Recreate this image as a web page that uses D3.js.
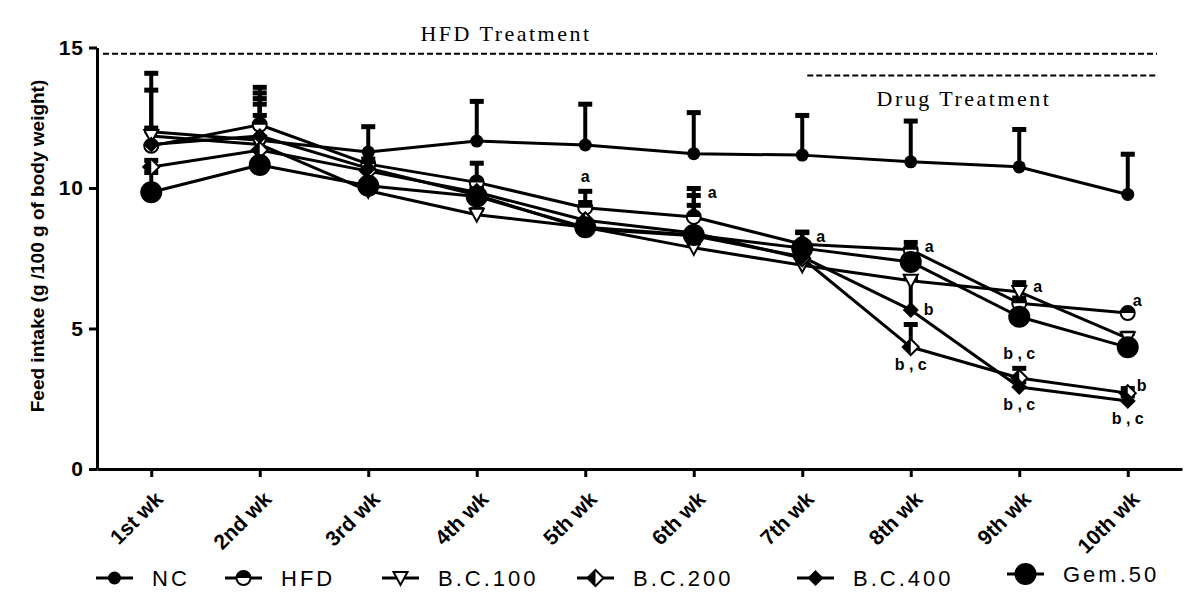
<!DOCTYPE html>
<html><head><meta charset="utf-8">
<script src="https://cdn.jsdelivr.net/npm/d3@7"></script>
<style>
body{margin:0;background:#fff;}
svg{display:block;}
</style></head>
<body>
<svg id="chart" width="1200" height="613"></svg>
<script>
const weeks = ["1st wk","2nd wk","3rd wk","4th wk","5th wk","6th wk","7th wk","8th wk","9th wk","10th wk"];
const yTicks = [0,5,10,15];

const NC     = [12.0, 11.7, 11.28, 11.67, 11.53, 11.22, 11.17, 10.93, 10.75, 9.77];
const HFD    = [11.5, 12.25, 10.85, 10.2, 9.3, 8.97, 8.0, 7.8, 5.9, 5.55];
const BC100  = [11.85, 11.55, 9.9, 9.05, 8.6, 7.87, 7.25, 6.7, 6.3, 4.65];
const BC200  = [10.75, 11.35, 10.6, 9.85, 8.85, 8.4, 7.5, 4.34, 3.24, 2.7];
const BC400  = [11.55, 11.85, 10.7, 9.75, 8.55, 8.3, 7.55, 5.66, 2.92, 2.42];
const GEM50  = [9.85, 10.82, 10.08, 9.7, 8.6, 8.33, 7.86, 7.37, 5.42, 4.33];

const NC_err    = [2.1, 1.9, 0.92, 1.43, 1.47, 1.48, 1.43, 1.47, 1.35, 1.45];
const HFD_err   = [2.0, 1.15, 0.2, 0.7, 0.6, 1.03, 0.45, 0.28, 0.2, 0.05];
const BC100_err = [0.3, 1.65, 0.2, 0.2, 0.2, 0.2, 0.2, 0.1, 0.35, 0.2];
const BC200_err = [0.25, 1.65, 0.2, 0.2, 0.65, 1.35, 0.2, 0.82, 0.36, 0.18];
const BC400_err = [0.5, 0.75, 0.2, 0.2, 0.2, 1.1, 0.2, 1.17, 0.2, 0.2];
const GEM50_err = [0.72, 0.2, 0.2, 0.2, 0.2, 0.2, 0.57, 0.2, 0.2, 0.2];

const seriesNames = ["NC","HFD","B.C.100","B.C.200","B.C.400","Gem.50"];
const seriesVals  = [NC, HFD, BC100, BC200, BC400, GEM50];
const seriesErrs  = [NC_err, HFD_err, BC100_err, BC200_err, BC400_err, GEM50_err];

// significance letters: week, series, label, placement
const sigLabels = [
  ["5th wk","HFD","a","top"],
  ["6th wk","HFD","a","right"],
  ["7th wk","HFD","a","right"],
  ["8th wk","HFD","a","right"],
  ["9th wk","BC100","a","right"],
  ["10th wk","HFD","a","rightUp"],
  ["8th wk","BC400","b","right"],
  ["8th wk","BC200","b , c","below"],
  ["9th wk","BC200","b , c","top"],
  ["9th wk","BC400","b , c","below"],
  ["10th wk","BC200","b","right"],
  ["10th wk","BC400","b , c","below"]
];
const phaseLabels = [
  {text:"HFD Treatment", from:"1st wk", value:14.78, pos:"above"},
  {text:"Drug Treatment", from:"7th wk", value:14.0, pos:"below"}
];

const svg = d3.select("#chart");
const x = d3.scalePoint().domain(weeks).range([97, 1182]).padding(0.5);
const y = d3.scaleLinear().domain([0,15]).range([469, 47.5]);

const keyIdx = {NC:0, HFD:1, BC100:2, BC200:3, BC400:4, GEM50:5};

// axes
const yAxis = d3.axisLeft(y).tickValues(yTicks).tickSize(8).tickSizeOuter(0).tickPadding(5);
const gy = svg.append("g").attr("transform","translate(97,0)").call(yAxis);
gy.select(".domain").attr("stroke","#000").attr("stroke-width",3);
gy.selectAll(".tick line").attr("stroke","#000").attr("stroke-width",3);
gy.selectAll(".tick text").attr("font-family","Liberation Sans, Arial, sans-serif").attr("font-weight","bold").attr("font-size",21).attr("letter-spacing","1").attr("fill","#000");

const xAxis = d3.axisBottom(x).tickSize(8).tickSizeOuter(0).tickFormat("");
const gx = svg.append("g").attr("transform","translate(0,469)").call(xAxis);
gx.select(".domain").attr("stroke","#000").attr("stroke-width",3);
gx.selectAll(".tick line").attr("stroke","#000").attr("stroke-width",3);
gx.selectAll(".tick").append("text")
  .attr("transform","translate(2,21) rotate(-45)")
  .attr("text-anchor","end").attr("dy","0.7em")
  .attr("font-family","Liberation Sans, Arial, sans-serif").attr("font-weight","bold")
  .attr("font-size",21).attr("fill","#000")
  .text(d=>d);

// y title
svg.append("text").attr("transform","translate(44,246) rotate(-90)")
  .attr("text-anchor","middle")
  .attr("font-family","Liberation Sans, Arial, sans-serif").attr("font-weight","bold")
  .attr("font-size",19).text("Feed intake (g /100 g of body weight)");

// phase dashed lines
phaseLabels.forEach(p=>{
  const x0 = p.from === "1st wk" ? 103 : x(p.from)+5;
  svg.append("line").attr("x1",x0).attr("x2",1157).attr("y1",y(p.value)).attr("y2",y(p.value))
    .attr("stroke","#000").attr("stroke-width",2).attr("stroke-dasharray","6,3");
  svg.append("text").attr("x", p.pos==="above" ? 506 : 964)
    .attr("y", p.pos==="above" ? y(p.value)-13 : y(p.value)+30)
    .attr("text-anchor","middle")
    .attr("font-family","Liberation Serif, Times New Roman, serif").attr("font-size",22)
    .attr("letter-spacing","2.5").text(p.text);
});

// markers
function drawMarker(g, i, cx, cy){
  const s = "#000";
  if(i===0){ g.append("circle").attr("cx",cx).attr("cy",cy).attr("r",6.5).attr("fill",s); }
  else if(i===1){
    g.append("circle").attr("cx",cx).attr("cy",cy).attr("r",7).attr("fill","#fff").attr("stroke",s).attr("stroke-width",2);
    g.append("path").attr("d",`M${cx-7},${cy} A7,7 0 0 1 ${cx+7},${cy} Z`).attr("fill",s);
  }
  else if(i===2){
    g.append("path").attr("d",`M${cx-7},${cy-6} L${cx+7},${cy-6} L${cx},${cy+7} Z`).attr("fill","#fff").attr("stroke",s).attr("stroke-width",2);
  }
  else if(i===3){
    g.append("path").attr("d",`M${cx},${cy-8} L${cx+8},${cy} L${cx},${cy+8} L${cx-8},${cy} Z`).attr("fill","#fff").attr("stroke",s).attr("stroke-width",2);
    g.append("path").attr("d",`M${cx},${cy-8} L${cx-8},${cy} L${cx},${cy+8} Z`).attr("fill",s);
  }
  else if(i===4){
    g.append("path").attr("d",`M${cx},${cy-8} L${cx+8},${cy} L${cx},${cy+8} L${cx-8},${cy} Z`).attr("fill",s);
  }
  else {
    g.append("circle").attr("cx",cx).attr("cy",cy).attr("r",11).attr("fill",s);
  }
}

const line = d3.line().x((d,i)=>x(weeks[i])).y(d=>y(d));
const gl = svg.append("g");
seriesVals.forEach(v=>{
  gl.append("path").attr("d",line(v)).attr("fill","none").attr("stroke","#000").attr("stroke-width",3).attr("stroke-linejoin","round");
});
// error bars (upper)
const ge = svg.append("g");
seriesVals.forEach((v,si)=>{
  v.forEach((val,i)=>{
    const cx = x(weeks[i]), top = y(val+seriesErrs[si][i]);
    ge.append("line").attr("x1",cx).attr("x2",cx).attr("y1",y(val)).attr("y2",top).attr("stroke","#000").attr("stroke-width",4);
    ge.append("rect").attr("x",cx-7).attr("y",top-2).attr("width",14).attr("height",5).attr("fill","#000");
  });
});
const gm = svg.append("g");
seriesVals.forEach((v,si)=>{
  v.forEach((val,i)=>drawMarker(gm, si, x(weeks[i]), y(val)));
});

// significance labels
const gs = svg.append("g").attr("font-family","Liberation Sans, Arial, sans-serif").attr("font-weight","bold").attr("font-size",16);
sigLabels.forEach(([wk,ser,lab,pos])=>{
  const si = keyIdx[ser];
  const val = seriesVals[si][weeks.indexOf(wk)];
  const err = seriesErrs[si][weeks.indexOf(wk)];
  const cx = x(wk);
  let tx, ty, anchor="start";
  if(pos==="top"){ tx=cx; ty=y(val+err)-9; anchor="middle"; }
  else if(pos==="right"){ tx=cx+14; ty=y(val+err)+10; }
  else if(pos==="rightUp"){ tx=cx+5; ty=y(val)-7; }
  else { tx=cx; ty=y(val)+23; anchor="middle"; }
  if(ser==="BC400" && pos==="right"){ ty = y(val)+5; tx = cx+13; }
  if(ser==="BC200" && pos==="right"){ ty = y(val)-2; tx = cx+9; }
  gs.append("text").attr("x",tx).attr("y",ty).attr("text-anchor",anchor).text(lab);
});

// legend
const legendX = [96, 225, 382, 577, 797, 1007];
const gleg = svg.append("g");
seriesNames.forEach((n,i)=>{
  const ly = i===5 ? 574 : 578;
  const x0 = legendX[i];
  gleg.append("line").attr("x1",x0).attr("x2",x0+37).attr("y1",ly).attr("y2",ly).attr("stroke","#000").attr("stroke-width",3);
  drawMarker(gleg, i, x0+18.5, ly);
  gleg.append("text").attr("x",x0+56).attr("y",ly+8)
    .attr("font-family","Liberation Sans, Arial, sans-serif").attr("font-size",22).attr("letter-spacing","3")
    .text(n);
});
</script>
</body></html>
